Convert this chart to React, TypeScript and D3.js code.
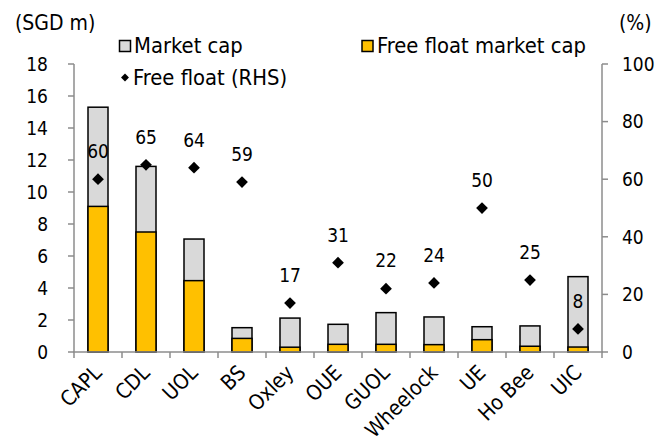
import React from "react";
import * as d3 from "d3";

const categories = ["CAPL", "CDL", "UOL", "BS", "Oxley", "OUE", "GUOL", "Wheelock", "UE", "Ho Bee", "UIC"];
const marketCap = [15.3, 11.6, 7.06, 1.52, 2.12, 1.73, 2.46, 2.19, 1.58, 1.63, 4.71];
const freeFloatCap = [9.1, 7.5, 4.46, 0.85, 0.3, 0.48, 0.48, 0.46, 0.77, 0.36, 0.31];
const freeFloatPct = [60, 65, 64, 59, 17, 31, 22, 24, 50, 25, 8];
const leftTicks = [0, 2, 4, 6, 8, 10, 12, 14, 16, 18];
const rightTicks = [0, 20, 40, 60, 80, 100];

const W = 670;
const H = 445;
const font = "'DejaVu Sans Condensed', 'DejaVu Sans', sans-serif";

export default function App() {
  const x0 = 74, x1 = 602, yTop = 64, yBot = 352;
  const x = d3.scaleBand<string>().domain(categories).range([x0, x1]);
  const yL = d3.scaleLinear().domain([0, 18]).range([yBot, yTop]);
  const yR = d3.scaleLinear().domain([0, 100]).range([yBot, yTop]);
  const bw = 20;
  const axisColor = "#8c8c8c";
  const diamond = d3.symbol().type(d3.symbolDiamond2).size(88)() as string;
  const legendDiamond = d3.symbol().type(d3.symbolDiamond2).size(40)() as string;

  return (
    <svg width={W} height={H} style={{ position: "absolute", left: 0, top: 0, background: "#fff" }} fontFamily={font}>
      <text x={15} y={30} fontSize={21}>(SGD m)</text>
      <text x={619} y={30} fontSize={21}>(%)</text>

      {/* legend */}
      <rect x={119.5} y={40.5} width={11} height={11} fill="#d9d9d9" stroke="#000" strokeWidth={1.5} />
      <text x={134} y={53} fontSize={21.8}>Market cap</text>
      <rect x={362} y={40.5} width={11} height={11} fill="#ffc000" stroke="#000" strokeWidth={1.5} />
      <text x={377} y={53} fontSize={21.8}>Free float market cap</text>
      <path d={legendDiamond} transform="translate(125,77.5)" fill="#000" />
      <text x={133} y={85} fontSize={21.8}>Free float (RHS)</text>

      {/* bars */}
      {categories.map((c, i) => {
        const cx = (x(c) as number) + x.bandwidth() / 2;
        return (
          <g key={c}>
            <rect x={cx - bw / 2} y={yL(marketCap[i])} width={bw} height={yBot - yL(marketCap[i])}
              fill="#d9d9d9" stroke="#000" strokeWidth={1.5} />
            <rect x={cx - bw / 2} y={yL(freeFloatCap[i])} width={bw} height={yBot - yL(freeFloatCap[i])}
              fill="#ffc000" stroke="#000" strokeWidth={1.5} />
          </g>
        );
      })}

      {/* left axis */}
      <line x1={x0} x2={x0} y1={yTop} y2={yBot} stroke={axisColor} strokeWidth={1.5} />
      {leftTicks.map((t) => (
        <g key={"l" + t}>
          <line x1={x0 - 6} x2={x0} y1={yL(t)} y2={yL(t)} stroke={axisColor} strokeWidth={1.5} />
          <text x={48} y={yL(t)} dy="0.36em" textAnchor="end" fontSize={19}>{t}</text>
        </g>
      ))}

      {/* right axis */}
      <line x1={x1} x2={x1} y1={yTop} y2={yBot} stroke={axisColor} strokeWidth={1.5} />
      {rightTicks.map((t) => (
        <g key={"r" + t}>
          <line x1={x1} x2={x1 + 6} y1={yR(t)} y2={yR(t)} stroke={axisColor} strokeWidth={1.5} />
          <text x={622} y={yR(t)} dy="0.36em" textAnchor="start" fontSize={19}>{t}</text>
        </g>
      ))}

      {/* x axis */}
      <line x1={x0 - 1} x2={x1 + 1} y1={yBot} y2={yBot} stroke={axisColor} strokeWidth={1.5} />
      {categories.map((c, i) => (
        <line key={"xt" + c} x1={x0 + i * x.bandwidth()} x2={x0 + i * x.bandwidth()} y1={yBot} y2={yBot + 6}
          stroke={axisColor} strokeWidth={1.5} />
      ))}
      <line x1={x1} x2={x1} y1={yBot} y2={yBot + 6} stroke={axisColor} strokeWidth={1.5} />

      {/* category labels */}
      {categories.map((c) => {
        const cx = (x(c) as number) + x.bandwidth() / 2;
        return (
          <text key={"cl" + c} transform={`translate(${cx + 5},${yBot + 22}) rotate(-45)`} textAnchor="end"
            fontSize={21}>{c}</text>
        );
      })}

      {/* free float points and labels */}
      {categories.map((c, i) => {
        const cx = (x(c) as number) + x.bandwidth() / 2;
        const py = yR(freeFloatPct[i]);
        return (
          <g key={"p" + c}>
            <path d={diamond} transform={`translate(${cx},${py})`} fill="#000" />
            <text x={cx} y={py - 28} dy="0.36em" textAnchor="middle" fontSize={19}>{freeFloatPct[i]}</text>
          </g>
        );
      })}
    </svg>
  );
}
